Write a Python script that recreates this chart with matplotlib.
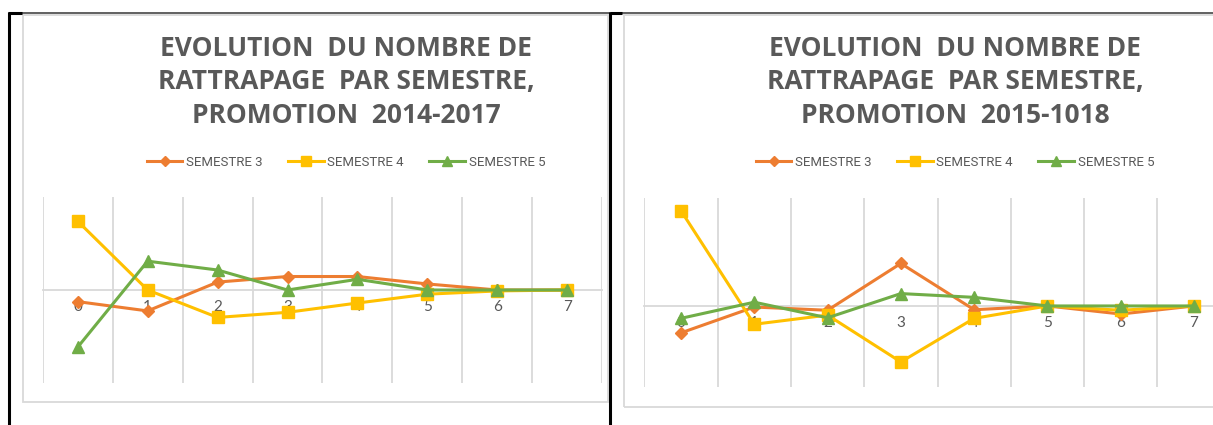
import numpy as np
import matplotlib.pyplot as plt
from matplotlib.lines import Line2D
from matplotlib.patches import Rectangle

# taille de la figure en pixels
W, H = 1213, 425

semestres = [0, 1, 2, 3, 4, 5, 6, 7]
noms_series = ['SEMESTRE 3', 'SEMESTRE 4', 'SEMESTRE 5']
couleurs = ['#ED7D31', '#FFC000', '#70AD47']

# promotion 2014-2017
p1_s3 = [-2.5, -4.5, 1.7, 2.9, 2.9, 1.3, 0.0, 0.0]
p1_s4 = [14.8, 0.0, -5.9, -4.8, -2.8, -0.9, -0.2, 0.0]
p1_s5 = [-12.3, 6.2, 4.3, 0.0, 2.3, 0.0, 0.0, 0.0]

# promotion 2015-1018
p2_s3 = [-5.0, -0.2, -0.8, 7.9, -0.7, 0.0, -1.5, 0.0]
p2_s4 = [17.7, -3.4, -1.7, -10.4, -2.3, 0.0, -0.8, 0.0]
p2_s5 = [-2.3, 0.7, -2.2, 2.3, 1.6, 0.0, 0.0, 0.0]

titre1 = "EVOLUTION  DU NOMBRE DE\nRATTRAPAGE  PAR SEMESTRE,\nPROMOTION  2014-2017"
titre2 = "EVOLUTION  DU NOMBRE DE\nRATTRAPAGE  PAR SEMESTRE,\nPROMOTION  2015-1018"

GRIS_TEXTE = '#595959'
GRIS_GRILLE = '#D9D9D9'


def px_axes(fig, x0, y0, x1, y1):
    # rectangle en pixels (origine en haut a gauche) -> axes matplotlib
    return fig.add_axes([x0 / W, 1 - y1 / H, (x1 - x0) / W, (y1 - y0) / H])


def px_ligne(fig, xs, ys, couleur, lw):
    fig.add_artist(Line2D([x / W for x in xs], [1 - y / H for y in ys],
                          color=couleur, lw=lw, solid_capstyle='butt', zorder=10))


def tracer(ax, series, ylim):
    marqueurs = [('D', 6), ('s', 9), ('^', 8.5)]
    for i, (valeurs, nom) in enumerate(zip(series, noms_series)):
        m, ms = marqueurs[i]
        ax.plot(semestres, valeurs, color=couleurs[i], lw=2.2, marker=m, ms=ms,
                label=nom, zorder=3 + i, clip_on=False)
    ax.set_xlim(-0.5, 7.5)
    ax.set_ylim(*ylim)
    for cote in ['top', 'right', 'left']:
        ax.spines[cote].set_visible(False)
    ax.spines['bottom'].set_position(('data', 0))
    ax.spines['bottom'].set_color(GRIS_GRILLE)
    ax.spines['bottom'].set_linewidth(1.3)
    ax.set_xticks(semestres)
    ax.set_xticklabels([str(s) for s in semestres], family=['Lato', 'DejaVu Sans'])
    ax.set_xticks(np.arange(-0.5, 8, 1), minor=True)
    ax.tick_params(axis='x', which='both', length=0, pad=7,
                   labelcolor=GRIS_TEXTE, labelsize=11)
    ax.grid(which='minor', axis='x', color=GRIS_GRILLE, lw=1.3)
    ax.set_yticks([])
    ax.patch.set_alpha(0)


fig = plt.figure(figsize=(W / 100, H / 100), dpi=100)
fig.patch.set_facecolor('white')

# cadres des deux graphiques
fig.add_artist(Rectangle((23 / W, 1 - 402 / H), (608 - 23) / W, (402 - 15) / H,
                         transform=fig.transFigure, fill=False, ec=GRIS_GRILLE, lw=1.3))
fig.add_artist(Rectangle((624 / W, 1 - 407 / H), 700 / W, (407 - 15) / H,
                         transform=fig.transFigure, fill=False, ec=GRIS_GRILLE, lw=1.3))

ax1 = px_axes(fig, 42.7, 197, 602.3, 383)
tracer(ax1, [p1_s3, p1_s4, p1_s5], (-20, 20))

ax2 = px_axes(fig, 644.3, 198.3, 1230.7, 386.7)
tracer(ax2, [p2_s3, p2_s4, p2_s5], (-15, 20))

for ax, titre, xc in [(ax1, titre1, 346), (ax2, titre2, 955)]:
    fig.text(xc / W, 1 - 82 / H, titre, ha='center', va='center',
             fontsize=19, fontweight='bold', color=GRIS_TEXTE, linespacing=1.3,
             family=['Open Sans', 'DejaVu Sans'])
    poignees, etiquettes = ax.get_legend_handles_labels()
    leg = fig.legend(poignees, etiquettes, loc='center', ncol=3, frameon=False,
                     bbox_to_anchor=(xc / W, 1 - 162 / H),
                     prop={'family': ['Roboto', 'DejaVu Sans'], 'size': 9.5},
                     handlelength=2.7, handletextpad=0.3, columnspacing=1.9,
                     markerscale=0.8)
    for t in leg.get_texts():
        t.set_color(GRIS_TEXTE)

# bordures du tableau
px_ligne(fig, [22, 1213], [13, 13], '#606060', 1.4)
px_ligne(fig, [8, 22], [13, 13], 'black', 2.2)
px_ligne(fig, [610, 622], [13, 13], 'black', 2.2)
px_ligne(fig, [9, 9], [12, 425], 'black', 2.2)
px_ligne(fig, [610, 610], [12, 425], 'black', 2.2)

fig.savefig('out.png', dpi=100)
